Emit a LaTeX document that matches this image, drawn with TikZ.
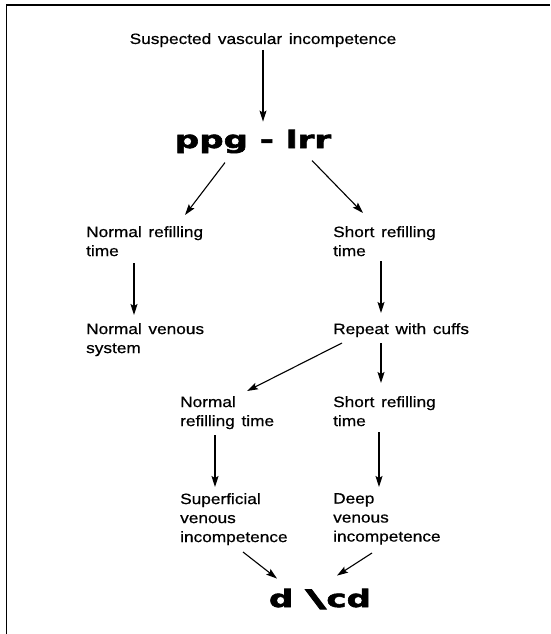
\documentclass[tikz,border=0pt]{standalone}
\usepackage{fontspec}
\usepackage{graphicx}
\setmainfont{Liberation Sans}[FakeStretch=1.15,WordSpace=1.4,FakeBold=0.6]
\newfontfamily\headfont{DejaVu Sans Bold}[FakeStretch=1.42,FakeBold=2.5]
\usetikzlibrary{arrows.meta,calc}

\tikzset{
  lbl/.style={anchor=north west, inner sep=0pt, align=left,
              font=\fontsize{15}{19}\selectfont},
  title/.style={anchor=base, inner sep=0pt, font=\fontsize{15}{19}\selectfont},
  heavy/.style={anchor=base, inner sep=0pt, font=\headfont\fontsize{24}{24}\selectfont},
  arr/.style={-{Stealth[length=11pt,width=7pt,inset=2pt]}, line width=1.1pt},
  frame/.style={line width=1.4pt}
}

\begin{document}
\begin{tikzpicture}[x=1pt, y=-1pt]
  \useasboundingbox (0,0) rectangle (550,634);

  % frame rules along the top and left edges
  \draw[frame] (6,5) -- (550,5);
  \draw[line width=0.9pt] (6,5) -- (6,634);

  % nodes
  \node[title] (susp) at (263,44) {Suspected vascular incompetence};
  \node[heavy] (ppg) at (253,148) {ppg - lrr};
  \node[lbl] (nrt1) at (86,226)  {Normal refilling\\time};
  \node[lbl] (srt1) at (333,226) {Short refilling\\time};
  \node[lbl] (nvs)  at (86,323)  {Normal venous\\system};
  \node[lbl] (rep)  at (333,323) {Repeat with cuffs};
  \node[lbl] (nrt2) at (180,396) {Normal\\refilling time};
  \node[lbl] (srt2) at (333,396) {Short refilling\\time};
  \node[lbl] (svi)  at (180,493) {Superficial\\venous\\incompetence};
  \node[lbl] (dvi)  at (333,493) {Deep\\venous\\incompetence};
  \node[heavy] (dcd) at (320,607) {d \scalebox{1.7}[1]{\textbackslash}cd};

  % connectors
  \draw[arr] ($(susp.base)+(0,6)$) -- ($(susp.base |- ppg.north)+(0,-8)$);
  \draw[arr] ($(ppg.north)+(-28,33)$) -- ($(nrt1.north west)+(99,-11)$);
  \draw[arr] ($(ppg.north)+(59,31)$)  -- ($(srt1.north west)+(30,-13)$);
  \draw[arr] ($(nrt1.north west)+(48,37)$) -- ($(nvs.north west)+(48,-8)$);
  \draw[arr] ($(srt1.north west)+(48,35)$) -- ($(rep.north west)+(48,-10)$);
  \draw[arr] ($(rep.north west)+(9,20)$)  -- ($(nrt2.north west)+(67,-5)$);
  \draw[arr] ($(rep.north west)+(48,20)$) -- ($(srt2.north west)+(48,-13)$);
  \draw[arr] ($(nrt2.north west)+(35,39)$) -- ($(svi.north west)+(35,-6)$);
  \draw[arr] ($(srt2.north west)+(46,36)$) -- ($(dvi.north west)+(46,-6)$);
  \draw[arr] ($(svi.north west)+(63,59)$) -- ($(dcd.north)+(-43,-10)$);
  \draw[arr] ($(dvi.north west)+(39,60)$) -- ($(dcd.north)+(17,-13)$);
\end{tikzpicture}
\end{document}
